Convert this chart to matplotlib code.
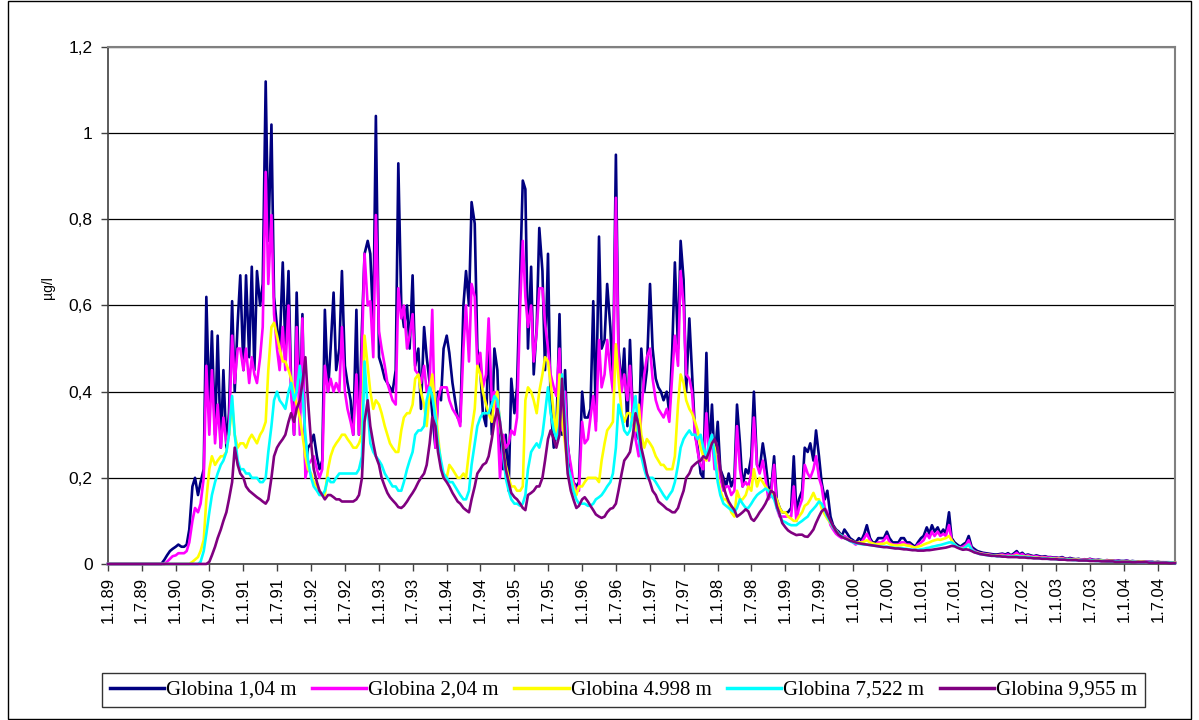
import numpy as np
import pandas as pd
import matplotlib
matplotlib.use("Agg")
from matplotlib import pyplot as plt
from matplotlib.patches import Rectangle

# semi-monthly samples (1st and 15th), 1.1.1989 - 1.10.2004
dates = pd.date_range("1989-01-01", periods=379, freq="SMS")
tick_dates = pd.date_range("1989-01-01", "2004-07-01", freq="6MS")
tick_labels = [f"{d.day}.{d.month}.{d:%y}" for d in tick_dates]

names = ["Globina 1,04 m", "Globina 2,04 m", "Globina 4.998 m",
         "Globina 7,522 m", "Globina 9,955 m"]
colors = ["#000080", "#FF00FF", "#FFFF00", "#00FFFF", "#800080"]

blue = [
    # 1989
    0, 0, 0, 0, 0, 0, 0, 0, 0, 0, 0, 0, 0, 0, 0, 0, 0, 0, 0, 0, 0.01, 0.02, 0.03, 0.035,
    # 1990
    0.04, 0.045, 0.04, 0.04, 0.045, 0.08, 0.18, 0.2, 0.16, 0.19, 0.22, 0.62, 0.36, 0.54, 0.3, 0.53, 0.27, 0.45, 0.27, 0.35, 0.61, 0.4, 0.56, 0.67,
    # 1991
    0.45, 0.67, 0.48, 0.69, 0.45, 0.68, 0.6, 0.65, 1.12, 0.75, 1.02, 0.62, 0.55, 0.5, 0.7, 0.5, 0.68, 0.42, 0.3, 0.63, 0.35, 0.58, 0.22, 0.27,
    # 1992
    0.28, 0.3, 0.25, 0.22, 0.24, 0.59, 0.4, 0.5, 0.63, 0.45, 0.5, 0.68, 0.46, 0.42, 0.38, 0.3, 0.59, 0.3, 0.55, 0.72, 0.75, 0.72, 0.55, 1.04,
    # 1993
    0.48, 0.46, 0.43, 0.42, 0.41, 0.4, 0.45, 0.93, 0.6, 0.55, 0.6, 0.5, 0.67, 0.46, 0.5, 0.36, 0.55, 0.48, 0.42, 0.35, 0.27, 0.4, 0.38, 0.5,
    # 1994
    0.53, 0.49, 0.42, 0.38, 0.34, 0.33, 0.6, 0.68, 0.6, 0.84, 0.79, 0.5, 0.45, 0.35, 0.32, 0.54, 0.3, 0.5, 0.45, 0.27, 0.22, 0.3, 0.17, 0.43,
    # 1995
    0.35, 0.41, 0.67, 0.89, 0.87, 0.5, 0.69, 0.44, 0.55, 0.78, 0.68, 0.45, 0.72, 0.37, 0.27, 0.3, 0.58, 0.3, 0.45, 0.28, 0.21, 0.19, 0.18, 0.19,
    # 1996
    0.4, 0.34, 0.34, 0.36, 0.61, 0.33, 0.76, 0.5, 0.52, 0.65, 0.55, 0.42, 0.95, 0.5, 0.41, 0.5, 0.32, 0.52, 0.34, 0.3, 0.29, 0.5, 0.4, 0.45,
    # 1997
    0.65, 0.5, 0.43, 0.41, 0.4, 0.38, 0.4, 0.35, 0.5, 0.7, 0.5, 0.75, 0.66, 0.4, 0.57, 0.45, 0.3, 0.27, 0.21, 0.2, 0.49, 0.25, 0.37, 0.24,
    # 1998
    0.33, 0.22, 0.2, 0.18, 0.21, 0.18, 0.2, 0.37, 0.28, 0.18, 0.22, 0.21, 0.25, 0.4, 0.23, 0.22, 0.28, 0.24, 0.18, 0.17, 0.25, 0.15, 0.13, 0.12,
    # 1999
    0.12, 0.12, 0.13, 0.25, 0.12, 0.15, 0.17, 0.27, 0.26, 0.28, 0.24, 0.31, 0.25, 0.19, 0.15, 0.17, 0.11, 0.09, 0.08, 0.075, 0.065, 0.08, 0.07, 0.06,
    # 2000
    0.055, 0.05, 0.06, 0.055, 0.07, 0.09, 0.06, 0.05, 0.05, 0.06, 0.06, 0.06, 0.075, 0.06, 0.05, 0.05, 0.05, 0.06, 0.06, 0.05, 0.05, 0.045, 0.04, 0.05,
    # 2001
    0.06, 0.065, 0.085, 0.07, 0.09, 0.075, 0.085, 0.07, 0.08, 0.07, 0.12, 0.06, 0.05, 0.045, 0.04, 0.045, 0.05, 0.065, 0.04, 0.035, 0.03, 0.028, 0.026, 0.025,
    # 2002
    0.024, 0.023, 0.022, 0.022, 0.023, 0.024, 0.022, 0.025, 0.02, 0.024, 0.03, 0.022, 0.026, 0.02, 0.022, 0.02, 0.018, 0.02, 0.018, 0.017, 0.018, 0.016, 0.016, 0.015,
    # 2003
    0.015, 0.014, 0.016, 0.013, 0.012, 0.014, 0.012, 0.011, 0.012, 0.01, 0.011, 0.01, 0.012, 0.01, 0.009, 0.01, 0.009, 0.008, 0.009, 0.008, 0.008, 0.007, 0.008, 0.007,
    # 2004
    0.007, 0.008, 0.006, 0.007, 0.006, 0.006, 0.005, 0.006, 0.005, 0.005, 0.005, 0.004, 0.005, 0.004, 0.004, 0.004, 0.004, 0.003, 0.003,
]

magenta = [
    # 1989
    0, 0, 0, 0, 0, 0, 0, 0, 0, 0, 0, 0, 0, 0, 0, 0, 0, 0, 0, 0, 0, 0.005, 0.012, 0.018,
    # 1990
    0.02, 0.025, 0.025, 0.025, 0.03, 0.05, 0.1, 0.13, 0.12, 0.14, 0.2, 0.46, 0.3, 0.45, 0.28, 0.37, 0.27, 0.34, 0.28, 0.3, 0.53, 0.42, 0.5, 0.5,
    # 1991
    0.45, 0.5, 0.42, 0.48, 0.44, 0.42, 0.48, 0.55, 0.91, 0.65, 0.81, 0.58, 0.5, 0.45, 0.55, 0.45, 0.6, 0.4, 0.3, 0.55, 0.3, 0.57, 0.2, 0.23,
    # 1992
    0.24, 0.25, 0.22, 0.2, 0.22, 0.46, 0.4, 0.43, 0.4, 0.42, 0.4, 0.55, 0.4, 0.36, 0.33, 0.3, 0.44, 0.3, 0.5, 0.72, 0.6, 0.61, 0.48, 0.81,
    # 1993
    0.54, 0.5, 0.46, 0.42, 0.4, 0.38, 0.37, 0.64, 0.57, 0.6, 0.5, 0.53, 0.58, 0.45, 0.44, 0.42, 0.46, 0.4, 0.42, 0.59, 0.27, 0.38, 0.41, 0.41,
    # 1994
    0.41, 0.38, 0.36, 0.35, 0.34, 0.32, 0.5, 0.6, 0.47, 0.65, 0.62, 0.46, 0.49, 0.41, 0.44, 0.57, 0.38, 0.4, 0.34, 0.2, 0.3, 0.27, 0.28, 0.31,
    # 1995
    0.3, 0.34, 0.6, 0.75, 0.62, 0.55, 0.6, 0.47, 0.54, 0.64, 0.64, 0.56, 0.5, 0.44, 0.41, 0.39, 0.5, 0.31, 0.4, 0.27, 0.23, 0.19, 0.17, 0.17,
    # 1996
    0.33, 0.28, 0.29, 0.34, 0.39, 0.31, 0.52, 0.41, 0.44, 0.52, 0.45, 0.4, 0.85, 0.48, 0.4, 0.44, 0.38, 0.46, 0.34, 0.29, 0.25, 0.35, 0.44, 0.48,
    # 1997
    0.5, 0.43, 0.38, 0.36, 0.35, 0.34, 0.36, 0.33, 0.44, 0.53, 0.46, 0.68, 0.6, 0.44, 0.43, 0.4, 0.3, 0.26, 0.23, 0.22, 0.35, 0.24, 0.3, 0.22,
    # 1998
    0.25, 0.2, 0.17, 0.18, 0.18, 0.16, 0.17, 0.32, 0.22, 0.18, 0.19, 0.18, 0.21, 0.34, 0.23, 0.21, 0.24, 0.2, 0.15, 0.16, 0.23, 0.13, 0.11, 0.11,
    # 1999
    0.11, 0.11, 0.11, 0.18, 0.1, 0.13, 0.15, 0.23, 0.21, 0.2, 0.22, 0.25, 0.2, 0.18, 0.13, 0.12, 0.09, 0.08, 0.07, 0.065, 0.06, 0.065, 0.06, 0.055,
    # 2000
    0.05, 0.045, 0.05, 0.05, 0.06, 0.07, 0.055, 0.045, 0.045, 0.05, 0.05, 0.055, 0.065, 0.05, 0.045, 0.045, 0.045, 0.05, 0.05, 0.045, 0.045, 0.04, 0.037, 0.045,
    # 2001
    0.05, 0.055, 0.07, 0.06, 0.075, 0.065, 0.075, 0.065, 0.07, 0.065, 0.09, 0.055, 0.045, 0.04, 0.038, 0.04, 0.045, 0.055, 0.035, 0.03, 0.027, 0.025, 0.024, 0.023,
    # 2002
    0.022, 0.021, 0.02, 0.02, 0.021, 0.022, 0.02, 0.022, 0.019, 0.021, 0.026, 0.02, 0.023, 0.018, 0.02, 0.018, 0.017, 0.018, 0.016, 0.016, 0.016, 0.015, 0.015, 0.014,
    # 2003
    0.014, 0.013, 0.014, 0.012, 0.011, 0.012, 0.011, 0.01, 0.011, 0.01, 0.01, 0.009, 0.011, 0.009, 0.009, 0.009, 0.008, 0.008, 0.008, 0.007, 0.007, 0.007, 0.007, 0.006,
    # 2004
    0.006, 0.007, 0.006, 0.006, 0.006, 0.005, 0.005, 0.005, 0.005, 0.005, 0.004, 0.004, 0.004, 0.004, 0.004, 0.003, 0.003, 0.003, 0.003,
]

yellow = [
    # 1989
    0, 0, 0, 0, 0, 0, 0, 0, 0, 0, 0, 0, 0, 0, 0, 0, 0, 0, 0, 0, 0, 0, 0, 0,
    # 1990
    0, 0, 0, 0, 0, 0, 0.005, 0.01, 0.016, 0.03, 0.056, 0.15, 0.22, 0.25, 0.23, 0.24, 0.25, 0.25, 0.26, 0.3, 0.37, 0.3, 0.27, 0.28,
    # 1991
    0.28, 0.27, 0.29, 0.3, 0.29, 0.28, 0.3, 0.31, 0.33, 0.45, 0.55, 0.56, 0.53, 0.5, 0.47, 0.47, 0.45, 0.43, 0.4, 0.37, 0.34, 0.3, 0.25, 0.22,
    # 1992
    0.21, 0.19, 0.18, 0.17, 0.16, 0.16, 0.22, 0.25, 0.27, 0.28, 0.29, 0.3, 0.3, 0.29, 0.28, 0.27, 0.27, 0.28, 0.3, 0.53, 0.46, 0.4, 0.36, 0.38,
    # 1993
    0.37, 0.35, 0.32, 0.3, 0.28, 0.27, 0.26, 0.26, 0.31, 0.34, 0.35, 0.35, 0.37, 0.43, 0.44, 0.4, 0.37, 0.32, 0.4, 0.44, 0.36, 0.3, 0.23, 0.2,
    # 1994
    0.2, 0.23, 0.22, 0.21, 0.2, 0.2, 0.21, 0.2, 0.26, 0.31, 0.36, 0.46, 0.44, 0.4, 0.37, 0.35, 0.33, 0.38, 0.4, 0.32, 0.27, 0.23, 0.2, 0.18,
    # 1995
    0.18, 0.17, 0.17, 0.18, 0.38, 0.41, 0.4, 0.38, 0.35, 0.4, 0.44, 0.48, 0.47, 0.42, 0.35, 0.3, 0.44, 0.33, 0.28, 0.22, 0.2, 0.18, 0.16, 0.18,
    # 1996
    0.18, 0.19, 0.2, 0.2, 0.2, 0.2, 0.19, 0.24, 0.28, 0.31, 0.32, 0.33, 0.51, 0.43, 0.35, 0.33, 0.35, 0.35, 0.33, 0.31, 0.37, 0.3, 0.27, 0.29,
    # 1997
    0.28, 0.27, 0.25, 0.24, 0.23, 0.23, 0.22, 0.22, 0.22, 0.25, 0.37, 0.44, 0.42, 0.38, 0.36, 0.35, 0.33, 0.31, 0.27, 0.25, 0.24, 0.27, 0.29, 0.27,
    # 1998
    0.2, 0.17, 0.15, 0.15, 0.14, 0.12, 0.11, 0.17, 0.15, 0.15, 0.16, 0.18, 0.17, 0.22, 0.18, 0.2, 0.19, 0.18, 0.17, 0.17, 0.16, 0.15, 0.13, 0.12,
    # 1999
    0.12, 0.11, 0.105, 0.1, 0.1, 0.11, 0.12, 0.135, 0.14, 0.15, 0.165, 0.15, 0.15, 0.13, 0.115, 0.105, 0.095, 0.085, 0.078, 0.07, 0.065, 0.06, 0.058, 0.055,
    # 2000
    0.052, 0.05, 0.05, 0.05, 0.052, 0.055, 0.05, 0.048, 0.046, 0.046, 0.047, 0.047, 0.05, 0.046, 0.044, 0.043, 0.043, 0.044, 0.045, 0.043, 0.042, 0.04, 0.038, 0.04,
    # 2001
    0.042, 0.045, 0.048, 0.05, 0.053, 0.055, 0.057, 0.056, 0.058, 0.06, 0.065, 0.055, 0.045, 0.04, 0.036, 0.035, 0.04, 0.045, 0.032, 0.028, 0.026, 0.024, 0.023, 0.022,
    # 2002
    0.021, 0.02, 0.02, 0.019, 0.019, 0.019, 0.018, 0.018, 0.018, 0.018, 0.02, 0.018, 0.018, 0.017, 0.017, 0.016, 0.015, 0.015, 0.014, 0.014, 0.014, 0.013, 0.013, 0.013,
    # 2003
    0.012, 0.012, 0.012, 0.011, 0.011, 0.011, 0.01, 0.01, 0.01, 0.009, 0.009, 0.009, 0.009, 0.008, 0.008, 0.008, 0.008, 0.007, 0.007, 0.007, 0.007, 0.006, 0.006, 0.006,
    # 2004
    0.006, 0.006, 0.006, 0.005, 0.005, 0.005, 0.005, 0.005, 0.004, 0.004, 0.004, 0.004, 0.004, 0.004, 0.003, 0.003, 0.003, 0.003, 0.003,
]

cyan = [
    # 1989
    0, 0, 0, 0, 0, 0, 0, 0, 0, 0, 0, 0, 0, 0, 0, 0, 0, 0, 0, 0, 0, 0, 0, 0,
    # 1990
    0, 0, 0, 0, 0, 0, 0, 0, 0, 0.005, 0.03, 0.07, 0.12, 0.16, 0.19, 0.21, 0.23, 0.24, 0.26, 0.3, 0.39, 0.3, 0.24, 0.22,
    # 1991
    0.22, 0.21, 0.21, 0.2, 0.2, 0.2, 0.19, 0.19, 0.2, 0.26, 0.32, 0.38, 0.4, 0.38, 0.37, 0.36, 0.4, 0.42, 0.38, 0.4, 0.46, 0.4, 0.3, 0.24,
    # 1992
    0.2, 0.18, 0.17, 0.16, 0.16, 0.17, 0.2, 0.19, 0.19, 0.2, 0.21, 0.21, 0.21, 0.21, 0.21, 0.21, 0.21, 0.22, 0.25, 0.47, 0.36, 0.28, 0.26, 0.25,
    # 1993
    0.24, 0.23, 0.21, 0.2, 0.19, 0.18, 0.18, 0.17, 0.17, 0.19, 0.22, 0.24, 0.26, 0.3, 0.31, 0.31, 0.32, 0.38, 0.41, 0.39, 0.34, 0.28, 0.24, 0.21,
    # 1994
    0.2, 0.19, 0.19, 0.18, 0.17, 0.16, 0.15, 0.15, 0.17, 0.23, 0.28, 0.32, 0.34, 0.35, 0.35, 0.35, 0.37, 0.39, 0.38, 0.33, 0.26, 0.2, 0.17, 0.15,
    # 1995
    0.14, 0.14, 0.135, 0.14, 0.16, 0.22, 0.26, 0.27, 0.28, 0.27, 0.3, 0.35, 0.41, 0.35, 0.31, 0.29, 0.32, 0.44, 0.34, 0.23, 0.2, 0.17, 0.15, 0.14,
    # 1996
    0.14, 0.14, 0.135, 0.135, 0.14, 0.15, 0.155, 0.16, 0.17, 0.18, 0.19, 0.21, 0.27, 0.37, 0.34, 0.31, 0.3, 0.31, 0.35, 0.39, 0.29, 0.25, 0.22, 0.2,
    # 1997
    0.2, 0.2, 0.19, 0.18, 0.17, 0.16, 0.15, 0.16, 0.17, 0.19, 0.23, 0.27, 0.29, 0.3, 0.31, 0.3, 0.3, 0.29, 0.3, 0.27, 0.25, 0.28, 0.3, 0.25,
    # 1998
    0.19, 0.16, 0.14, 0.135, 0.13, 0.125, 0.12, 0.13, 0.15, 0.14, 0.13, 0.13, 0.14, 0.15, 0.16, 0.165, 0.17, 0.175, 0.17, 0.16, 0.15, 0.13, 0.115, 0.1,
    # 1999
    0.097, 0.093, 0.09, 0.09, 0.09, 0.095, 0.1, 0.105, 0.11, 0.12, 0.128, 0.135, 0.145, 0.14, 0.125, 0.11, 0.097, 0.085, 0.077, 0.07, 0.065, 0.06, 0.057, 0.053,
    # 2000
    0.05, 0.048, 0.047, 0.046, 0.045, 0.045, 0.044, 0.043, 0.042, 0.041, 0.04, 0.04, 0.04, 0.039, 0.038, 0.037, 0.037, 0.037, 0.036, 0.035, 0.034, 0.033, 0.033, 0.033,
    # 2001
    0.034, 0.035, 0.037, 0.038, 0.04, 0.041, 0.043, 0.044, 0.046, 0.048, 0.05, 0.05, 0.045, 0.04, 0.036, 0.034, 0.04, 0.045, 0.033, 0.028, 0.025, 0.023, 0.022, 0.021,
    # 2002
    0.02, 0.019, 0.019, 0.018, 0.018, 0.018, 0.017, 0.017, 0.017, 0.017, 0.018, 0.017, 0.017, 0.016, 0.016, 0.015, 0.014, 0.014, 0.013, 0.013, 0.013, 0.012, 0.012, 0.012,
    # 2003
    0.011, 0.011, 0.011, 0.01, 0.01, 0.01, 0.009, 0.009, 0.009, 0.009, 0.008, 0.008, 0.008, 0.008, 0.007, 0.007, 0.007, 0.007, 0.006, 0.006, 0.006, 0.006, 0.006, 0.005,
    # 2004
    0.005, 0.005, 0.005, 0.005, 0.005, 0.004, 0.004, 0.004, 0.004, 0.004, 0.004, 0.003, 0.003, 0.003, 0.003, 0.003, 0.003, 0.003, 0.002,
]

purple = [
    # 1989
    0, 0, 0, 0, 0, 0, 0, 0, 0, 0, 0, 0, 0, 0, 0, 0, 0, 0, 0, 0, 0, 0, 0, 0,
    # 1990
    0, 0, 0, 0, 0, 0, 0, 0, 0, 0, 0, 0, 0.005, 0.02, 0.04, 0.06, 0.08, 0.1, 0.12, 0.15, 0.19, 0.27, 0.23, 0.21,
    # 1991
    0.2, 0.18, 0.17, 0.165, 0.16, 0.155, 0.15, 0.145, 0.14, 0.15, 0.2, 0.25, 0.27, 0.28, 0.29, 0.3, 0.33, 0.35, 0.33, 0.36, 0.38, 0.42, 0.48, 0.38,
    # 1992
    0.28, 0.22, 0.19, 0.17, 0.16, 0.15, 0.16, 0.16, 0.155, 0.15, 0.15, 0.145, 0.145, 0.145, 0.145, 0.145, 0.15, 0.16, 0.2, 0.33, 0.38, 0.32, 0.28, 0.25,
    # 1993
    0.23, 0.2, 0.18, 0.165, 0.155, 0.148, 0.14, 0.132, 0.13, 0.135, 0.145, 0.155, 0.165, 0.175, 0.19, 0.2, 0.21, 0.23, 0.28, 0.34, 0.32, 0.26, 0.22, 0.2,
    # 1994
    0.19, 0.18, 0.165, 0.155, 0.145, 0.14, 0.13, 0.125, 0.12, 0.15, 0.18, 0.21, 0.22, 0.23, 0.235, 0.25, 0.29, 0.33, 0.36, 0.33, 0.27, 0.22, 0.19, 0.165,
    # 1995
    0.155, 0.15, 0.14, 0.13, 0.125, 0.16, 0.165, 0.17, 0.18, 0.18, 0.2, 0.24, 0.29, 0.31, 0.29, 0.27, 0.3, 0.43, 0.3, 0.21, 0.17, 0.15, 0.13, 0.135,
    # 1996
    0.15, 0.155, 0.145, 0.135, 0.125, 0.115, 0.11, 0.107, 0.11, 0.12, 0.128, 0.13, 0.14, 0.17, 0.21, 0.24, 0.25, 0.26, 0.3, 0.35, 0.32, 0.27, 0.24, 0.21,
    # 1997
    0.19, 0.17, 0.16, 0.145, 0.14, 0.135, 0.128, 0.125, 0.12, 0.12, 0.13, 0.15, 0.17, 0.2, 0.21, 0.225, 0.232, 0.237, 0.24, 0.25, 0.245, 0.26, 0.28, 0.29,
    # 1998
    0.27, 0.22, 0.18, 0.16, 0.145, 0.135, 0.125, 0.11, 0.115, 0.12, 0.127, 0.122, 0.105, 0.1, 0.11, 0.12, 0.13, 0.14, 0.155, 0.17, 0.165, 0.135, 0.115, 0.095,
    # 1999
    0.085, 0.078, 0.073, 0.07, 0.067, 0.068, 0.068, 0.064, 0.063, 0.07, 0.08, 0.095, 0.11, 0.122, 0.128, 0.115, 0.1, 0.088, 0.076, 0.068, 0.063, 0.06, 0.057, 0.054,
    # 2000
    0.052, 0.05, 0.048, 0.047, 0.046, 0.045, 0.044, 0.043, 0.042, 0.041, 0.04, 0.039, 0.039, 0.038, 0.037, 0.036, 0.036, 0.035, 0.034, 0.034, 0.033, 0.032, 0.032, 0.031,
    # 2001
    0.031, 0.031, 0.032, 0.032, 0.033, 0.034, 0.035, 0.036, 0.037, 0.038, 0.04, 0.042, 0.041, 0.038, 0.035, 0.033, 0.034, 0.033, 0.03, 0.027, 0.025, 0.023, 0.022, 0.021,
    # 2002
    0.02, 0.019, 0.019, 0.018, 0.018, 0.017, 0.017, 0.016, 0.016, 0.016, 0.016, 0.015, 0.015, 0.015, 0.014, 0.014, 0.013, 0.013, 0.013, 0.012, 0.012, 0.012, 0.011, 0.011,
    # 2003
    0.011, 0.01, 0.01, 0.01, 0.009, 0.009, 0.009, 0.009, 0.008, 0.008, 0.008, 0.008, 0.007, 0.007, 0.007, 0.007, 0.006, 0.006, 0.006, 0.006, 0.006, 0.005, 0.005, 0.005,
    # 2004
    0.005, 0.005, 0.005, 0.004, 0.004, 0.004, 0.004, 0.004, 0.004, 0.003, 0.003, 0.003, 0.003, 0.003, 0.003, 0.003, 0.002, 0.002, 0.002,
]

series = [blue, magenta, yellow, cyan, purple]

fig = plt.figure(figsize=(11.99, 7.2), dpi=100)
ax = fig.add_axes([0.0901, 0.2167, 0.8903, 0.718])

for ys, c, n in zip(series, colors, names):
    ax.plot(dates, ys, color=c, lw=1.9, label=n, solid_joinstyle="round",
            clip_on=False, zorder=3)

ax.set_ylim(0, 1.2)
ax.set_xlim(pd.Timestamp("1989-01-01"), pd.Timestamp("2004-10-04"))
ax.set_yticks([0, 0.2, 0.4, 0.6, 0.8, 1.0, 1.2])
ax.set_yticklabels(["0", "0,2", "0,4", "0,6", "0,8", "1", "1,2"],
                   fontsize=12.5, family="Liberation Sans")
ax.set_xticks(tick_dates)
ax.set_xticklabels(tick_labels, rotation=90, fontsize=12, family="Liberation Sans")
ax.tick_params(axis="both", direction="out", length=5, width=1, color="#404040")
ax.tick_params(axis="x", pad=4)
ax.tick_params(axis="y", pad=6)
ax.grid(axis="y", color="black", lw=0.9, zorder=1)
ax.set_axisbelow(True)
for s in ["left", "bottom"]:
    ax.spines[s].set_color("#404040")
    ax.spines[s].set_linewidth(1.2)
for s in ["top", "right"]:
    ax.spines[s].set_color("#808080")
    ax.spines[s].set_linewidth(1.5)

fig.text(48 / 1199, 1 - 288 / 720, "µg/l", rotation=90, ha="center", va="center",
         fontsize=10, family="Liberation Sans")

leg = fig.legend(loc="center", bbox_to_anchor=(0.52, 1 - 690 / 720), ncol=5,
                 prop={"family": "Liberation Serif", "size": 15},
                 handlelength=2.6, handletextpad=0.1, columnspacing=0.75,
                 frameon=True, fancybox=False, borderpad=0.35)
leg.get_frame().set_edgecolor("black")
leg.get_frame().set_linewidth(1.0)
for h in leg.get_lines():
    h.set_linewidth(2.5)

# outer chart border
fig.patches.append(Rectangle((8 / 1199, 1 / 720), 1183 / 1199, 718 / 720,
                             transform=fig.transFigure, fill=False,
                             edgecolor="black", lw=1.0))

fig.savefig("out.png", dpi=100)
